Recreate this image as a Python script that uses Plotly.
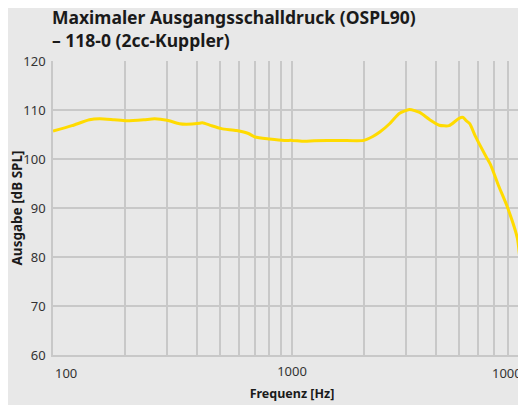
import plotly.graph_objects as go

freq_hz = [100, 120, 142, 157, 180, 203, 240, 266, 300, 338, 362, 410, 422, 460, 507, 586, 657, 700,
           805, 930, 1000, 1127, 1240, 1580, 2000, 2178, 2330, 2560, 2810, 3100, 3420, 3750, 4130,
           4540, 5000, 5200, 5331, 5540, 5870, 6465, 6776, 7325, 7965, 8772, 8968, 9204, 9438]
ospl90_db = [105.7, 106.8, 108.0, 108.2, 108.0, 107.8, 108.0, 108.2, 107.9, 107.2, 107.1, 107.3, 107.4,
             106.8, 106.2, 105.8, 105.2, 104.5, 104.1, 103.8, 103.8, 103.6, 103.7, 103.8, 103.8, 104.6,
             105.5, 107.2, 109.3, 110.1, 109.5, 108.1, 106.9, 106.8, 108.3, 108.5, 107.9, 107.2, 104.5,
             100.6, 98.8, 94.5, 90.2, 83.8, 80.0, 75.3, 69.2]

grid_freqs = [100, 200, 300, 400, 500, 600, 700, 800, 900,
              1000, 2000, 3000, 4000, 5000, 6000, 7000, 8000, 9000, 10000]
grid_labels = ["", "", "", "", "", "", "", "", "",
               "1000", "", "", "", "", "", "", "", "", ""]
first_label = "100"
last_label = "10000"
y_ticks = [60, 70, 80, 90, 100, 110, 120]

title_text = "Maximaler Ausgangsschalldruck (OSPL90)<br>– 118-0 (2cc-Kuppler)"
x_title = "Frequenz [Hz]"
y_title = "Ausgabe [dB SPL]"

BG = "#e8e8e8"
GRID = "#c8c8c8"
FONT = "Noto Sans"

fig = go.Figure()
fig.add_trace(go.Scatter(
    x=freq_hz, y=ospl90_db, mode="lines",
    line=dict(color="#ffdb00", width=3, shape="spline", smoothing=0.6),
    hoverinfo="skip", showlegend=False,
))

fig.update_layout(
    width=526, height=405,
    paper_bgcolor=BG, plot_bgcolor=BG,
    margin=dict(l=45, r=3, t=53, b=58),
    font=dict(family=FONT, color="#333333", size=12),
    title=dict(
        text=title_text,
        font=dict(family=FONT, size=17.5, color="#1a1a1a", weight="bold"),
        x=44 / 526, xanchor="left", xref="container",
        y=1 - 16 / 405, yanchor="top", yref="container",
    ),
    xaxis=dict(
        type="log", range=[2, 4], automargin=False,
        tickvals=grid_freqs, ticktext=grid_labels,
        showgrid=True, gridcolor=GRID, gridwidth=1.5,
        showline=True, linecolor=GRID, linewidth=1.5,
        ticks="", zeroline=False, ticklabelstandoff=4,
        tickfont=dict(size=13, color="#333333"),
        title=dict(text=x_title, font=dict(size=12.5, weight="bold", color="#1a1a1a"), standoff=10),
    ),
    yaxis=dict(
        range=[60, 120], tickvals=y_ticks, automargin=False,
        showgrid=True, gridcolor=GRID, gridwidth=1.5,
        showline=True, linecolor=GRID, linewidth=1.5,
        ticks="", zeroline=False, ticklabelstandoff=3,
        tickfont=dict(size=13, color="#333333"),
        title=dict(text=y_title, font=dict(size=13.5, weight="bold", color="#1a1a1a"), standoff=12),
    ),
)

# End labels are kept inside the plot width: first left-aligned, last right-aligned
fig.add_annotation(
    text=first_label, xref="paper", yref="paper",
    x=0, y=0, yshift=-18, yanchor="middle", xanchor="left",
    showarrow=False, font=dict(family=FONT, size=13, color="#333333"),
)
fig.add_annotation(
    text=last_label, xref="paper", yref="paper",
    x=1, y=0, yshift=-18, yanchor="middle", xanchor="right",
    showarrow=False, font=dict(family=FONT, size=13, color="#333333"),
)

fig.write_html("out.html")
